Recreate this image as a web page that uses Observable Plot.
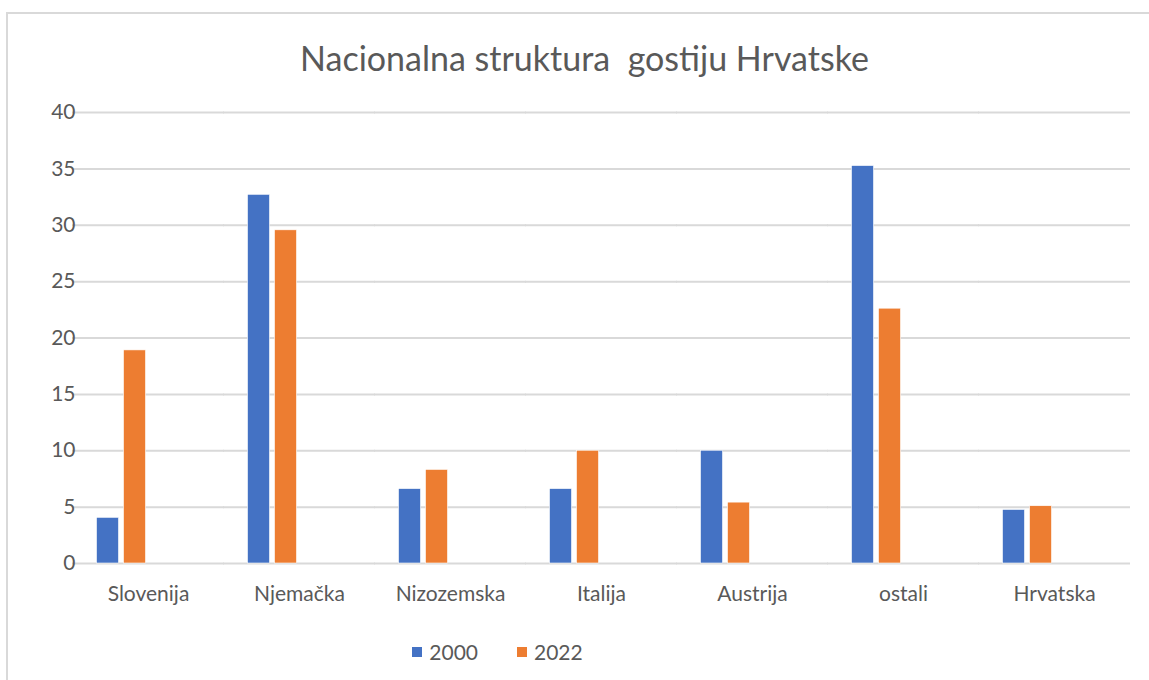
<!DOCTYPE html>
<html>
<head>
<meta charset="utf-8">
<script src="https://cdn.jsdelivr.net/npm/d3@7"></script>
<script src="https://cdn.jsdelivr.net/npm/@observablehq/plot@0.6"></script>
<style>
  html, body { margin: 0; padding: 0; background: #fff; overflow: hidden; }
  body { width: 1149px; height: 680px; position: relative; font-family: Lato, "Open Sans", sans-serif; color: #595959; }
  #frame { position: absolute; left: 6px; top: 12px; width: 1200px; height: 720px; border-left: 2px solid #d9d9d9; border-top: 2px solid #d9d9d9; }
  #title { position: absolute; left: 0; width: 1169px; top: 37px; text-align: center; font-size: 34px; color: #595959; white-space: pre; }
  #chart { position: absolute; left: 0; top: 0; }
  #legend { position: absolute; top: 639px; left: 0; width: 995px; display: flex; justify-content: center; gap: 39px; font-size: 21px; color: #595959; }
  .item { display: flex; align-items: center; gap: 7px; }
  .sw { width: 10px; height: 10px; display: inline-block; }
</style>
</head>
<body>
<div id="frame"></div>
<div id="title">Nacionalna struktura  gostiju Hrvatske</div>
<div id="chart"></div>
<div id="legend"></div>
<script>
const categories = ["Slovenija", "Njemačka", "Nizozemska", "Italija", "Austrija", "ostali", "Hrvatska"];
const series = ["2000", "2022"];
const values2000 = [4.05, 32.7, 6.6, 6.6, 10.0, 35.25, 4.75];
const values2022 = [18.9, 29.55, 8.3, 10.0, 5.4, 22.6, 5.08];
const colors = ["#4472C4", "#ED7D31"];
const yTicks = [0, 5, 10, 15, 20, 25, 30, 35, 40];

const data = [];
categories.forEach((c, i) => {
  data.push({cat: c, year: series[0], value: values2000[i]});
  data.push({cat: c, year: series[1], value: values2022[i]});
});

const chart = Plot.plot({
  width: 1149,
  height: 620,
  marginLeft: 70,
  marginRight: 17,
  marginTop: 112,
  marginBottom: 57,
  style: {fontFamily: "Lato, 'Open Sans', sans-serif", fontSize: "21px", color: "#595959", background: "transparent"},
  fx: {domain: categories, paddingInner: 0.288, paddingOuter: 0.144},
  x: {domain: ["2000", "2022", "_a", "_b"], padding: 0, axis: null},
  y: {domain: [0, 40]},
  color: {domain: series, range: colors},
  marks: [
    Plot.ruleY(yTicks, {stroke: "#d9d9d9", strokeWidth: 2, insetLeft: -22, insetRight: -22}),
    Plot.barY(data, {fx: "cat", x: "year", y: "value", fill: "year", insetLeft: 2.5, insetRight: 2.5, stroke: "#fff", strokeWidth: 0.6}),
    Plot.axisY(yTicks, {tickSize: 0, tickPadding: 19, label: null, fontSize: 21, fill: "#595959"}),
    Plot.axisFx({anchor: "bottom", tickSize: 0, tickPadding: 23, label: null, fontSize: 21, fill: "#595959", style: "letter-spacing: 0.8px"})
  ]
});
document.getElementById("chart").appendChild(chart);

const legend = document.getElementById("legend");
series.forEach((s, i) => {
  const item = document.createElement("div");
  item.className = "item";
  const sw = document.createElement("span");
  sw.className = "sw";
  sw.style.background = colors[i];
  const t = document.createElement("span");
  t.textContent = s;
  item.appendChild(sw);
  item.appendChild(t);
  legend.appendChild(item);
});
</script>
</body>
</html>
